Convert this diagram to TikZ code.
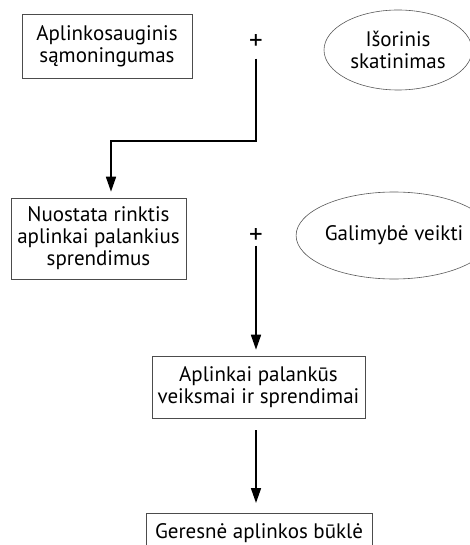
\documentclass[tikz,border=0pt]{standalone}
\usepackage{fontspec}
\setmainfont{PT Sans}
\usetikzlibrary{arrows.meta,calc,shapes.geometric}

\tikzset{
  label font/.style={font=\fontsize{21}{22}\selectfont},
  box/.style={draw=black!70, line width=0.6pt, rectangle, align=center,
    inner sep=0pt, label font},
  oval/.style={draw=black!65, line width=0.6pt, ellipse, align=center,
    inner sep=0pt, label font},
  sign/.style={inner sep=0pt, font=\fontsize{27}{27}\selectfont},
  flow/.style={draw=black, line width=1.7pt,
    -{Triangle[width=10pt,length=15pt]}},
}

\begin{document}
\begin{tikzpicture}[x=1pt,y=-1pt]
  \useasboundingbox (0,0) rectangle (470,545);
  \clip (0,0) rectangle (470,545);

  % boxes
  \node[box, minimum width=170pt, minimum height=64pt] (aware) at (107,46)
    {Aplinkosauginis\\sąmoningumas};
  \node[box, minimum width=175pt, minimum height=81pt] (attitude) at (98.5,238.5)
    {Nuostata rinktis\\aplinkai palankius\\sprendimus};
  \node[box, minimum width=213pt, minimum height=62pt] (actions) at (258.5,387)
    {Aplinkai palankūs\\veiksmai ir sprendimai};
  \node[box, minimum width=226pt, minimum height=50pt, anchor=north] (state)
    at (259,513) {};
  \node[label font, anchor=base] (statetext) at (259,538)
    {Geresnė aplinkos būklė};

  % ellipses
  \node[oval, minimum width=148pt, minimum height=80pt] (external) at (398,50)
    {Išorinis\\skatinimas};
  \node[oval, minimum width=158pt, minimum height=87pt] (chance) at (394,235.5)
    {Galimybė veikti};

  % plus signs
  \node[sign] (plusA) at (256,42) {+};
  \node[sign] (plusB) at (256,236) {+};

  % connectors
  \coordinate (bend) at (111,141);
  \draw[flow, shorten <=9pt, shorten >=6pt]
    (plusA.south) |- (bend) -- (bend |- attitude.north);
  \draw[flow, shorten <=2pt, shorten >=6pt]
    (plusB.south) -- (plusB.south |- actions.north);
  \draw[flow, shorten <=12pt, shorten >=10pt]
    (actions.south -| plusB) -- (plusB |- state.north);
\end{tikzpicture}
\end{document}
